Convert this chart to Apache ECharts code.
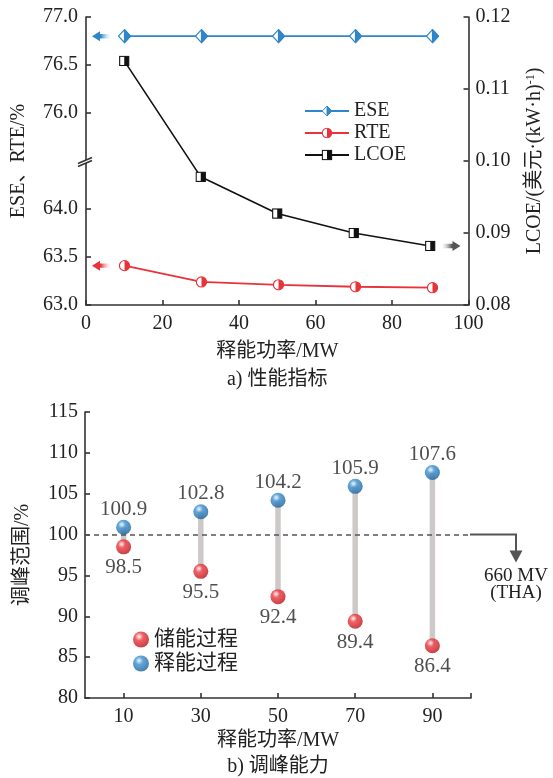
<!DOCTYPE html>
<html>
<head>
<meta charset="utf-8">
<script src="https://cdn.jsdelivr.net/npm/echarts@6/dist/echarts.min.js"></script>
<style>
  html, body { margin: 0; padding: 0; background: #ffffff; }
  #main { width: 553px; height: 778px; }
</style>
</head>
<body>
<div id="main"></div>
<script>
// ---- a) performance indicators ----
const powerMW = [10, 30, 50, 70, 90];
const eseValues = [76.8, 76.8, 76.8, 76.8, 76.8];
const rteValues = [63.41, 63.24, 63.21, 63.19, 63.18];
const lcoeValues = [0.1139, 0.0978, 0.0927, 0.0900, 0.0882];
const upperTicks = [76.0, 76.5, 77.0];
const lowerTicks = [63.0, 63.5, 64.0];

// ---- b) peak-shaving capability ----
const peakPower = [10, 30, 50, 70, 90];
const storageRange = [98.5, 95.5, 92.4, 89.4, 86.4];
const releaseRange = [100.9, 102.8, 104.2, 105.9, 107.6];
const peakTickValues = [10, 30, 50, 70, 90];
const thaLabel = ['660 MV', '(THA)'];

const SERIF = "'Liberation Serif','Times New Roman','Noto Sans CJK SC',serif";
const INK = '#222222';
const AXIS = '#333333';
const BLUE = '#2f86c8';
const RED = '#e8333b';
const BLACK = '#111111';

function svgSymbol(svg) {
  return 'image://data:image/svg+xml;charset=utf-8,' + encodeURIComponent(svg);
}
// half-filled markers: open left half, solid right half
const diamondSym = svgSymbol(
  "<svg xmlns='http://www.w3.org/2000/svg' width='28' height='30' viewBox='0 0 28 30'>" +
  "<polygon points='14,2 26,15 14,28 2,15' fill='#fff' stroke='" + BLUE + "' stroke-width='2.4'/>" +
  "<polygon points='14,2 26,15 14,28' fill='" + BLUE + "' stroke='" + BLUE + "' stroke-width='2.4' stroke-linejoin='round'/></svg>");
const circleSym = svgSymbol(
  "<svg xmlns='http://www.w3.org/2000/svg' width='26' height='26' viewBox='0 0 26 26'>" +
  "<circle cx='13' cy='13' r='11' fill='#fff' stroke='" + RED + "' stroke-width='2.4'/>" +
  "<path d='M13,2 A11,11 0 0 1 13,24 Z' fill='" + RED + "'/></svg>");
const squareSym = svgSymbol(
  "<svg xmlns='http://www.w3.org/2000/svg' width='24' height='24' viewBox='0 0 24 24'>" +
  "<rect x='2' y='2' width='20' height='20' fill='#fff' stroke='" + BLACK + "' stroke-width='2.4'/>" +
  "<rect x='12' y='2' width='10' height='20' fill='" + BLACK + "'/></svg>");

function ball(light, mid, dark) {
  return {
    type: 'radial', x: 0.38, y: 0.32, r: 0.7,
    colorStops: [
      { offset: 0, color: light },
      { offset: 0.35, color: mid },
      { offset: 1, color: dark }
    ]
  };
}
const redBall = ball('#ffffff', '#ee3a3f', '#b51218');
const blueBall = ball('#eaf4fb', '#3a8fd0', '#1b5f96');

const axisLine = { show: true, lineStyle: { color: AXIS, width: 1.6 } };
const axisTick = { show: true, inside: true, length: 5, lineStyle: { color: AXIS, width: 1.6 } };
const labelFont = { fontFamily: SERIF, fontSize: 20, color: INK };
const nameFont = { fontFamily: SERIF, fontSize: 20, color: INK };

const pairs = (xs, ys) => xs.map((x, i) => [x, ys[i]]);

const chart = echarts.init(document.getElementById('main'), null, { renderer: 'canvas' });

const option = {
  backgroundColor: '#ffffff',
  animation: false,
  grid: [
    { left: 86, top: 17, width: 385, height: 288 },
    { left: 86, top: 17, width: 385, height: 144 },
    { left: 86, top: 161, width: 385, height: 144 },
    { left: 85, top: 412, width: 386, height: 286 }
  ],
  xAxis: [
    {
      gridIndex: 0, type: 'value', min: 0, max: 100, interval: 20,
      axisLine, axisTick, splitLine: { show: false },
      axisLabel: Object.assign({ margin: 9 }, labelFont),
      name: '释能功率/MW', nameLocation: 'middle', nameGap: 37, nameTextStyle: nameFont
    },
    { gridIndex: 1, type: 'value', min: 0, max: 100, show: false },
    { gridIndex: 2, type: 'value', min: 0, max: 100, show: false },
    {
      gridIndex: 3, type: 'value', min: 0, max: 100,
      axisLine, splitLine: { show: false },
      axisTick: Object.assign({}, axisTick, { customValues: peakTickValues.concat([100]) }),
      axisLabel: Object.assign({ margin: 9, customValues: peakTickValues }, labelFont),
      name: '释能功率/MW', nameLocation: 'middle', nameGap: 33, nameTextStyle: nameFont
    }
  ],
  yAxis: [
    {
      gridIndex: 0, type: 'value', position: 'left', min: 0, max: 1,
      axisLine: { show: false }, axisTick: { show: false }, axisLabel: { show: false },
      splitLine: { show: false },
      name: 'ESE、RTE/%', nameLocation: 'middle', nameGap: 57, nameTextStyle: nameFont
    },
    {
      gridIndex: 0, type: 'value', position: 'right', min: 0.08, max: 0.12, interval: 0.01,
      axisLine, axisTick, splitLine: { show: false },
      axisLabel: Object.assign({ margin: 7, formatter: v => v.toFixed(2) }, labelFont),
      name: '{t|LCOE/(美元·(kW·h)}{s|-1}{t|)}', nameLocation: 'middle', nameGap: 56,
      nameTextStyle: {
        rich: {
          t: { fontFamily: SERIF, fontSize: 20, color: INK },
          s: { fontFamily: SERIF, fontSize: 12, color: INK, verticalAlign: 'top', padding: [0, 0, 9, 0] }
        }
      }
    },
    {
      gridIndex: 1, type: 'value', min: 75.5, max: 77.0,
      axisLine, splitLine: { show: false },
      axisTick: Object.assign({}, axisTick, { customValues: upperTicks }),
      axisLabel: Object.assign({ margin: 8, customValues: upperTicks, formatter: v => v.toFixed(1) }, labelFont)
    },
    {
      gridIndex: 2, type: 'value', min: 63.0, max: 64.5,
      axisLine, splitLine: { show: false },
      axisTick: Object.assign({}, axisTick, { customValues: lowerTicks }),
      axisLabel: Object.assign({ margin: 8, customValues: lowerTicks, formatter: v => v.toFixed(1) }, labelFont)
    },
    {
      gridIndex: 3, type: 'value', min: 80, max: 115, interval: 5,
      axisLine, axisTick, splitLine: { show: false },
      axisLabel: Object.assign({ margin: 7 }, labelFont),
      name: '调峰范围/%', nameLocation: 'middle', nameGap: 52, nameTextStyle: nameFont
    }
  ],
  legend: [
    {
      data: ['ESE', 'RTE', 'LCOE'], orient: 'vertical', left: 299, top: 96,
      itemWidth: 44, itemHeight: 14, itemGap: 2,
      textStyle: { fontFamily: SERIF, fontSize: 20, color: INK }
    },
    {
      data: ['储能过程', '释能过程'], orient: 'vertical', left: 128, top: 624,
      itemWidth: 16, itemHeight: 16, itemGap: 3,
      textStyle: { fontFamily: SERIF, fontSize: 21, color: INK }
    }
  ],
  series: [
    {
      name: 'ESE', type: 'line', xAxisIndex: 1, yAxisIndex: 2,
      data: pairs(powerMW, eseValues),
      symbol: diamondSym, symbolSize: [14, 15],
      lineStyle: { color: BLUE, width: 1.8 }, itemStyle: { color: BLUE }
    },
    {
      name: 'RTE', type: 'line', xAxisIndex: 2, yAxisIndex: 3,
      data: pairs(powerMW, rteValues),
      symbol: circleSym, symbolSize: 12,
      lineStyle: { color: RED, width: 1.8 }, itemStyle: { color: RED }
    },
    {
      name: 'LCOE', type: 'line', xAxisIndex: 0, yAxisIndex: 1,
      data: pairs(powerMW, lcoeValues),
      symbol: squareSym, symbolSize: 11,
      lineStyle: { color: BLACK, width: 1.6 }, itemStyle: { color: BLACK }
    },
    {
      name: 'span', type: 'custom', xAxisIndex: 3, yAxisIndex: 4, z: 1, silent: true,
      data: peakPower.map((x, i) => [x, storageRange[i], releaseRange[i]]),
      renderItem: (params, api) => {
        const a = api.coord([api.value(0), api.value(1)]);
        const b = api.coord([api.value(0), api.value(2)]);
        return {
          type: 'line',
          shape: { x1: a[0], y1: a[1], x2: b[0], y2: b[1] },
          style: { stroke: '#cdc9c9', lineWidth: 5.5 }
        };
      }
    },
    {
      name: '储能过程', type: 'scatter', xAxisIndex: 3, yAxisIndex: 4, z: 4,
      data: pairs(peakPower, storageRange),
      symbol: 'circle', symbolSize: 15,
      itemStyle: { color: redBall },
      label: {
        show: true, position: 'bottom', distance: 3,
        formatter: p => p.value[1].toFixed(1),
        fontFamily: SERIF, fontSize: 21, color: INK
      },
      markLine: {
        silent: true, symbol: 'none', z: 2,
        label: { show: false },
        lineStyle: { type: [5, 4], color: '#555555', width: 1.5 },
        data: [{ yAxis: 100 }]
      }
    },
    {
      name: '释能过程', type: 'scatter', xAxisIndex: 3, yAxisIndex: 4, z: 4,
      data: pairs(peakPower, releaseRange),
      symbol: 'circle', symbolSize: 15,
      itemStyle: { color: blueBall },
      label: {
        show: true, position: 'top', distance: 0,
        formatter: p => p.value[1].toFixed(1),
        fontFamily: SERIF, fontSize: 21, color: INK
      }
    }
  ]
};

chart.setOption(option);

// ---- annotations anchored to the axes ----
function fadeArrow(tipX, y, dir, color) {
  // dir = -1 points left, +1 points right
  const len = 19, head = 8, hh = 5, sh = 2.2;
  const tail = tipX - dir * len;
  const neck = tipX - dir * head;
  const pts = [
    [tipX, y], [neck, y - hh], [neck, y - sh], [tail, y - sh],
    [tail, y + sh], [neck, y + sh], [neck, y + hh]
  ];
  const x0 = dir < 0 ? 0 : 1;
  return {
    type: 'polygon', z: 10, silent: true,
    shape: { points: pts },
    style: {
      fill: {
        type: 'linear', x: x0, y: 0, x2: 1 - x0, y2: 0,
        colorStops: [
          { offset: 0, color: color },
          { offset: 0.45, color: color },
          { offset: 1, color: 'rgba(255,255,255,0.3)' }
        ]
      }
    }
  };
}

const topLeft = chart.convertToPixel({ xAxisIndex: 0, yAxisIndex: 1 }, [0, 0.12]);
const topRight = chart.convertToPixel({ xAxisIndex: 0, yAxisIndex: 1 }, [100, 0.08]);
const eseY = chart.convertToPixel({ yAxisIndex: 2 }, eseValues[0]);
const rteY = chart.convertToPixel({ yAxisIndex: 3 }, rteValues[0]);
const lcoeY = chart.convertToPixel({ yAxisIndex: 1 }, lcoeValues[lcoeValues.length - 1]);
const breakY = chart.convertToPixel({ yAxisIndex: 3 }, 64.5);
const axisX = topLeft[0];
const topMid = (topLeft[0] + topRight[0]) / 2;

const botLeft = chart.convertToPixel({ xAxisIndex: 3, yAxisIndex: 4 }, [0, 80]);
const botRight = chart.convertToPixel({ xAxisIndex: 3, yAxisIndex: 4 }, [100, 80]);
const refY = chart.convertToPixel({ yAxisIndex: 4 }, 100);
const botMid = (botLeft[0] + botRight[0]) / 2;
const elbowX = botRight[0] + 45;

const graphics = [
  fadeArrow(axisX + 6, eseY, -1, BLUE),
  fadeArrow(axisX + 6, rteY, -1, RED),
  fadeArrow(topRight[0] - 8, lcoeY, 1, '#555555'),
  // axis break mark
  {
    type: 'polygon', z: 20, silent: true,
    shape: { points: [[axisX - 8, breakY + 2.5], [axisX + 6, breakY - 3.5], [axisX + 6, breakY - 0.5], [axisX - 8, breakY + 5.5]] },
    style: { fill: '#ffffff' }
  },
  {
    type: 'line', z: 21, silent: true,
    shape: { x1: axisX - 8, y1: breakY + 2.5, x2: axisX + 6, y2: breakY - 3.5 },
    style: { stroke: AXIS, lineWidth: 1.6 }
  },
  {
    type: 'line', z: 21, silent: true,
    shape: { x1: axisX - 8, y1: breakY + 5.5, x2: axisX + 6, y2: breakY - 0.5 },
    style: { stroke: AXIS, lineWidth: 1.6 }
  },
  // 100 % reference → 660 MW (THA) pointer
  {
    type: 'polyline', z: 10, silent: true,
    shape: { points: [[botRight[0] - 1, refY], [elbowX, refY], [elbowX, refY + 17]] },
    style: { stroke: '#555555', lineWidth: 2, fill: null }
  },
  {
    type: 'polygon', z: 10, silent: true,
    shape: { points: [[elbowX - 6.5, refY + 16], [elbowX + 6.5, refY + 16], [elbowX, refY + 28]] },
    style: { fill: '#555555' }
  },
  {
    type: 'text', z: 10, silent: true, x: elbowX, y: refY + 41,
    style: { text: thaLabel[0], fontFamily: SERIF, fontSize: 19, fill: INK, align: 'center', verticalAlign: 'middle' }
  },
  {
    type: 'text', z: 10, silent: true, x: elbowX, y: refY + 58,
    style: { text: thaLabel[1], fontFamily: SERIF, fontSize: 19, fill: INK, align: 'center', verticalAlign: 'middle' }
  },
  // panel captions
  {
    type: 'text', z: 10, silent: true, x: topMid, y: 380,
    style: { text: 'a) 性能指标', fontFamily: SERIF, fontSize: 20, fill: INK, align: 'center', verticalAlign: 'middle' }
  },
  {
    type: 'text', z: 10, silent: true, x: botMid, y: 767,
    style: { text: 'b) 调峰能力', fontFamily: SERIF, fontSize: 20, fill: INK, align: 'center', verticalAlign: 'middle' }
  }
];

chart.setOption({ graphic: graphics });
</script>
</body>
</html>
